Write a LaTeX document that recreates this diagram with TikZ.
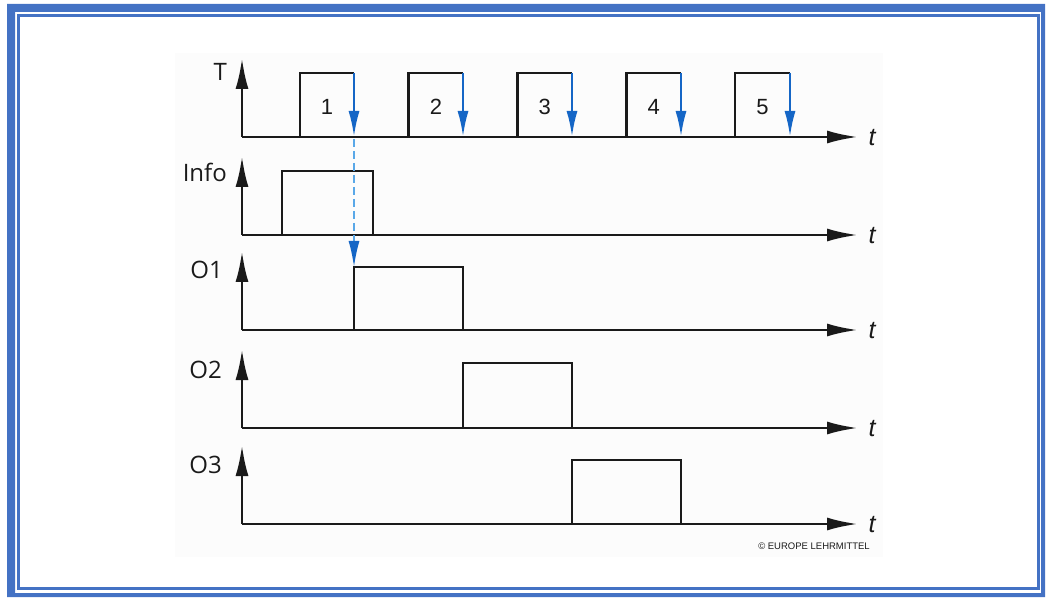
\documentclass[tikz,border=0pt]{standalone}
\usepackage{fontspec}
\setmainfont{Liberation Sans}
\newfontfamily\rowfont{Open Sans}
\usetikzlibrary{arrows.meta}
\definecolor{frame-blue}{HTML}{4472C4}
\definecolor{edge-blue}{HTML}{1566C6}
\definecolor{dash-blue}{HTML}{5AA8E8}
\definecolor{panel-fill}{HTML}{FCFCFC}
\definecolor{ink}{HTML}{1A1A1A}
\tikzset{
  axis-line/.style={draw=ink, line width=2.9pt, -{Latex[length=31pt, width=13pt]}},
  signal-line/.style={draw=ink, line width=2.9pt, line join=miter},
  clock-edge/.style={draw=edge-blue, line width=2.5pt, -{Latex[length=26pt, width=11pt]}},
  dash-link/.style={draw=dash-blue, line width=1.7pt, dash pattern=on 8pt off 4pt,
    -{Latex[length=26pt, width=11pt, color=edge-blue]}},
  row-label/.style={font=\rowfont\fontsize{24}{28}\selectfont, text=ink, anchor=east, inner sep=0pt},
  pulse-num/.style={font=\fontsize{22}{26}\selectfont, text=ink, inner sep=0pt},
  time-label/.style={font=\itshape\fontsize{25}{28}\selectfont, text=ink, inner sep=0pt},
  copy-note/.style={font=\fontsize{9.5}{11}\selectfont, text=ink, inner sep=0pt}
}

\begin{document}
\begin{tikzpicture}[x=1pt, y=-1pt]
  \useasboundingbox (0,0) rectangle (1048,601);

  % frame
  \fill[frame-blue, even odd rule] (7,4) rectangle (1045,597) (15,12) rectangle (1041,593);
  \draw[frame-blue, line width=2.5pt] (18.5,15.5) rectangle (1038.5,588.5);
  \fill[panel-fill] (175,53) rectangle (883,557);

  % axes and row labels
  \foreach \row/\base/\name/\lx/\ly in {t/137/T/227/72, info/235/Info/227/172, o1/330/O1/223/270, o2/428/O2/222/370, o3/524/O3/222/465} {
    \draw[axis-line] (242,\base) -- (242,{\base-79});
    \draw[axis-line] (242,\base) -- (858,\base);
    \node[row-label] (lbl-\row) at (\lx,\ly) {\name};
    \node[time-label] (time-\row) at (872,{\base+1}) {t};
  }

  % clock pulses
  \foreach \n in {1,...,5} {
    \pgfmathsetmacro\xs{300+108.75*(\n-1)}
    \pgfmathsetmacro\xe{354+109*(\n-1)}
    \draw[signal-line] (\xs,137) -- (\xs,73) -- (\xe,73);
    \draw[clock-edge] (\xe,73) -- (\xe,137);
    \node[pulse-num] (num-\n) at ({(\xs+\xe)/2},107) {\n};
  }

  % info and outputs
  \draw[signal-line] (282,235) -- (282,171) -- (373,171) -- (373,235);
  \draw[signal-line] (354,330) -- (354,267) -- (463,267) -- (463,330);
  \draw[signal-line] (463,428) -- (463,363) -- (572,363) -- (572,428);
  \draw[signal-line] (572,524) -- (572,460) -- (681,460) -- (681,524);

  % takeover at the first falling edge
  \draw[dash-link] (354,139) -- (354,267);

  \node[copy-note] (note) at (814,546) {\textcopyright{} EUROPE LEHRMITTEL};
\end{tikzpicture}
\end{document}
